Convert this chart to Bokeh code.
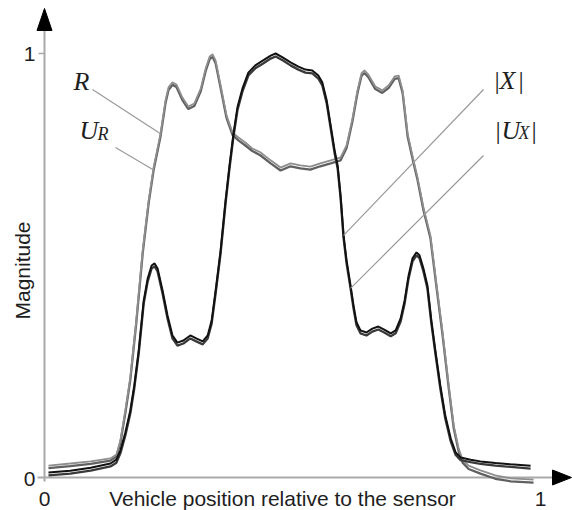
from bokeh.plotting import figure
from bokeh.models import Range1d
from bokeh.core.properties import value
from bokeh.embed import file_html
from bokeh.resources import INLINE

# ---------------- data ----------------
x_R = [0.008, 0.052, 0.093, 0.133, 0.145, 0.153, 0.163, 0.173, 0.185, 0.198,
       0.210, 0.220, 0.234, 0.244, 0.250, 0.258, 0.266, 0.278, 0.290, 0.302,
       0.315, 0.325, 0.333, 0.339, 0.345, 0.355, 0.367, 0.379, 0.391, 0.405,
       0.419, 0.435, 0.456, 0.476, 0.496, 0.516, 0.536, 0.556, 0.577, 0.597,
       0.609, 0.621, 0.631, 0.639, 0.645, 0.653, 0.667, 0.681, 0.694, 0.706,
       0.714, 0.722, 0.732, 0.744, 0.752, 0.764, 0.778, 0.790, 0.802, 0.815,
       0.825, 0.835, 0.843, 0.855, 0.879, 0.909, 0.940, 0.986]
R = [0.028, 0.033, 0.038, 0.045, 0.054, 0.087, 0.158, 0.236, 0.370, 0.535,
     0.653, 0.731, 0.811, 0.889, 0.920, 0.932, 0.927, 0.896, 0.875, 0.882,
     0.917, 0.965, 0.993, 0.998, 0.983, 0.925, 0.854, 0.814, 0.802, 0.790,
     0.776, 0.767, 0.748, 0.731, 0.741, 0.736, 0.733, 0.741, 0.748, 0.755,
     0.783, 0.847, 0.913, 0.953, 0.960, 0.950, 0.922, 0.913, 0.925, 0.946,
     0.948, 0.913, 0.811, 0.748, 0.708, 0.637, 0.571, 0.458, 0.347, 0.217,
     0.123, 0.068, 0.042, 0.028, 0.017, 0.005, -0.002, -0.005]
U_R = [0.022, 0.027, 0.032, 0.040, 0.049, 0.082, 0.152, 0.230, 0.364, 0.529,
       0.647, 0.725, 0.805, 0.883, 0.914, 0.926, 0.921, 0.890, 0.869, 0.876,
       0.911, 0.959, 0.987, 0.992, 0.977, 0.919, 0.848, 0.808, 0.795, 0.783,
       0.770, 0.760, 0.741, 0.724, 0.734, 0.729, 0.726, 0.734, 0.741, 0.748,
       0.777, 0.841, 0.907, 0.947, 0.954, 0.944, 0.916, 0.907, 0.919, 0.940,
       0.942, 0.907, 0.805, 0.742, 0.702, 0.631, 0.565, 0.452, 0.341, 0.211,
       0.117, 0.062, 0.035, 0.020, 0.009, -0.003, -0.009, -0.012]

x_X = [0.008, 0.052, 0.093, 0.133, 0.145, 0.153, 0.163, 0.173, 0.181, 0.190,
       0.200, 0.208, 0.216, 0.222, 0.228, 0.238, 0.248, 0.258, 0.268, 0.280,
       0.294, 0.306, 0.319, 0.329, 0.337, 0.345, 0.355, 0.365, 0.373, 0.381,
       0.389, 0.399, 0.411, 0.425, 0.440, 0.456, 0.466, 0.480, 0.496, 0.512,
       0.526, 0.540, 0.552, 0.560, 0.569, 0.577, 0.585, 0.591, 0.597, 0.603,
       0.609, 0.617, 0.623, 0.629, 0.637, 0.649, 0.661, 0.673, 0.685, 0.698,
       0.708, 0.718, 0.726, 0.734, 0.742, 0.750, 0.756, 0.764, 0.772, 0.780,
       0.788, 0.798, 0.808, 0.819, 0.829, 0.839, 0.859, 0.879, 0.909, 0.940,
       0.980]
X = [0.012, 0.016, 0.023, 0.033, 0.042, 0.064, 0.106, 0.158, 0.217, 0.300,
     0.417, 0.469, 0.500, 0.505, 0.493, 0.441, 0.382, 0.335, 0.318, 0.323,
     0.335, 0.328, 0.321, 0.335, 0.370, 0.441, 0.535, 0.653, 0.736, 0.811,
     0.873, 0.917, 0.955, 0.972, 0.983, 0.995, 1.000, 0.991, 0.979, 0.969,
     0.962, 0.960, 0.948, 0.932, 0.889, 0.830, 0.771, 0.736, 0.665, 0.571,
     0.512, 0.453, 0.406, 0.366, 0.347, 0.342, 0.351, 0.356, 0.349, 0.340,
     0.347, 0.375, 0.417, 0.476, 0.517, 0.531, 0.524, 0.493, 0.453, 0.370,
     0.300, 0.217, 0.146, 0.092, 0.059, 0.047, 0.042, 0.038, 0.034, 0.031,
     0.028]
U_X = [0.005, 0.009, 0.016, 0.026, 0.035, 0.057, 0.099, 0.151, 0.210, 0.293,
       0.410, 0.462, 0.493, 0.498, 0.486, 0.434, 0.375, 0.328, 0.311, 0.316,
       0.328, 0.321, 0.314, 0.328, 0.363, 0.434, 0.528, 0.646, 0.729, 0.804,
       0.866, 0.910, 0.948, 0.965, 0.976, 0.988, 0.993, 0.984, 0.972, 0.962,
       0.955, 0.953, 0.941, 0.925, 0.882, 0.823, 0.764, 0.729, 0.658, 0.564,
       0.505, 0.446, 0.399, 0.359, 0.340, 0.335, 0.344, 0.349, 0.342, 0.333,
       0.340, 0.368, 0.410, 0.469, 0.510, 0.524, 0.517, 0.486, 0.446, 0.363,
       0.293, 0.210, 0.139, 0.085, 0.053, 0.041, 0.036, 0.032, 0.028, 0.025,
       0.021]

x_ticks = [0, 1]
x_tick_labels = ["0", "1"]
y_ticks = [0, 1]
y_tick_labels = ["0", "1"]
x_title = "Vehicle position relative to the sensor"
y_title = "Magnitude"

# ---------------- layout helpers ----------------
W, H = 572, 510
PXU, PYU = 496.0, 424.0      # pixels per data unit
OX, OY = 44.0, 477.0         # pixel of data origin (from left / top)
T = 7.0                      # text baseline correction (px)


def dx(px):  # pixel -> data x
    return (px - OX) / PXU


def dy(py):  # pixel -> data y
    return (OY - py) / PYU


def ty(py):  # text baseline pixel -> data y
    return dy(py - T)


p = figure(width=W, height=H,
           x_range=Range1d(-OX / PXU, (W - OX) / PXU),
           y_range=Range1d(-(H - OY) / PYU, OY / PYU),
           output_backend="svg", toolbar_location=None,
           x_axis_location=None, y_axis_location=None, min_border=0)
p.outline_line_color = None
p.grid.visible = False
p.background_fill_color = "white"
p.border_fill_color = "white"

AX = "#a9a9a9"
SANS = value("Liberation Sans")
SERIF = value("Liberation Serif")
TXT = "#1e1e1e"

# axes lines
p.segment(x0=[0, dx(37)], y0=[dy(481), 0], x1=[0, dx(555)], y1=[dy(28), 0],
          line_color=AX, line_width=2)
# tick mark at y=1
p.segment(x0=[dx(38)], y0=[y_ticks[1]], x1=[0], y1=[y_ticks[1]],
          line_color=AX, line_width=1.5)
# arrow heads
p.patch([dx(36.5), dx(44), dx(51.5)], [dy(30), dy(8), dy(30)], color="black")
p.patch([dx(552), dx(571), dx(552)], [dy(469.5), dy(477), dy(484.5)], color="black")

# tick labels
p.text(x=[dx(35)] * 2, y=[ty(485), ty(60)], text=y_tick_labels,
       text_font=SANS, text_font_size=value("21px"), text_color=TXT,
       text_align="right", text_baseline="alphabetic")
p.text(x=x_ticks, y=[ty(505)] * 2, text=x_tick_labels,
       text_font=SANS, text_font_size=value("21px"), text_color=TXT,
       text_align="center", text_baseline="alphabetic")
# axis titles
p.text(x=[dx(282)], y=[ty(505)], text=[x_title],
       text_font=SANS, text_font_size=value("21px"), text_color=TXT,
       text_align="center", text_baseline="alphabetic")
p.text(x=[dx(29 - T)], y=[dy(270)], text=[y_title], angle=1.5707963,
       text_font=SANS, text_font_size=value("21px"), text_color=TXT,
       text_align="center", text_baseline="alphabetic")

# curves
p.line(x_R, U_R, line_color="#606060", line_width=2.3)
p.line(x_R, R, line_color="#8e8e8e", line_width=1.8)
p.line(x_X, U_X, line_color="#3a3a3a", line_width=2.3)
p.line(x_X, X, line_color="#111111", line_width=2.0)

# leader lines (ending on the curves)
LD = "#9a9a9a"
p.segment(x0=[dx(92), dx(115), dx(483), dx(483)],
          y0=[dy(89), dy(147), dy(89), dy(155)],
          x1=[x_R[12], x_R[11], x_X[49], x_X[51]],
          y1=[R[12], U_R[11], X[49], U_X[51]],
          line_color=LD, line_width=1.2)

# curve labels (serif, italic letters)
big = value("26px")
small = value("18px")
p.text(x=[dx(73)], y=[ty(88)], text=["R"], text_font=SERIF, text_font_size=big,
       text_font_style="italic", text_color=TXT, text_baseline="alphabetic")
p.text(x=[dx(79)], y=[ty(137)], text=["U"], text_font=SERIF, text_font_size=big,
       text_font_style="italic", text_color=TXT, text_baseline="alphabetic")
p.text(x=[dx(97)], y=[ty(140)], text=["R"], text_font=SERIF, text_font_size=small,
       text_font_style="italic", text_color=TXT, text_baseline="alphabetic")
# |X|
p.text(x=[dx(494), dx(518)], y=[ty(87)] * 2, text=["|", "|"], text_font=SERIF,
       text_font_size=big, text_color=TXT, text_baseline="alphabetic")
p.text(x=[dx(499)], y=[ty(87)], text=["X"], text_font=SERIF, text_font_size=big,
       text_font_style="italic", text_color=TXT, text_baseline="alphabetic")
# |U_X|
p.text(x=[dx(495), dx(531)], y=[ty(137)] * 2, text=["|", "|"], text_font=SERIF,
       text_font_size=big, text_color=TXT, text_baseline="alphabetic")
p.text(x=[dx(501)], y=[ty(137)], text=["U"], text_font=SERIF, text_font_size=big,
       text_font_style="italic", text_color=TXT, text_baseline="alphabetic")
p.text(x=[dx(518)], y=[ty(139)], text=["X"], text_font=SERIF, text_font_size=small,
       text_font_style="italic", text_color=TXT, text_baseline="alphabetic")

open("out.html", "w").write(file_html(p, INLINE))
